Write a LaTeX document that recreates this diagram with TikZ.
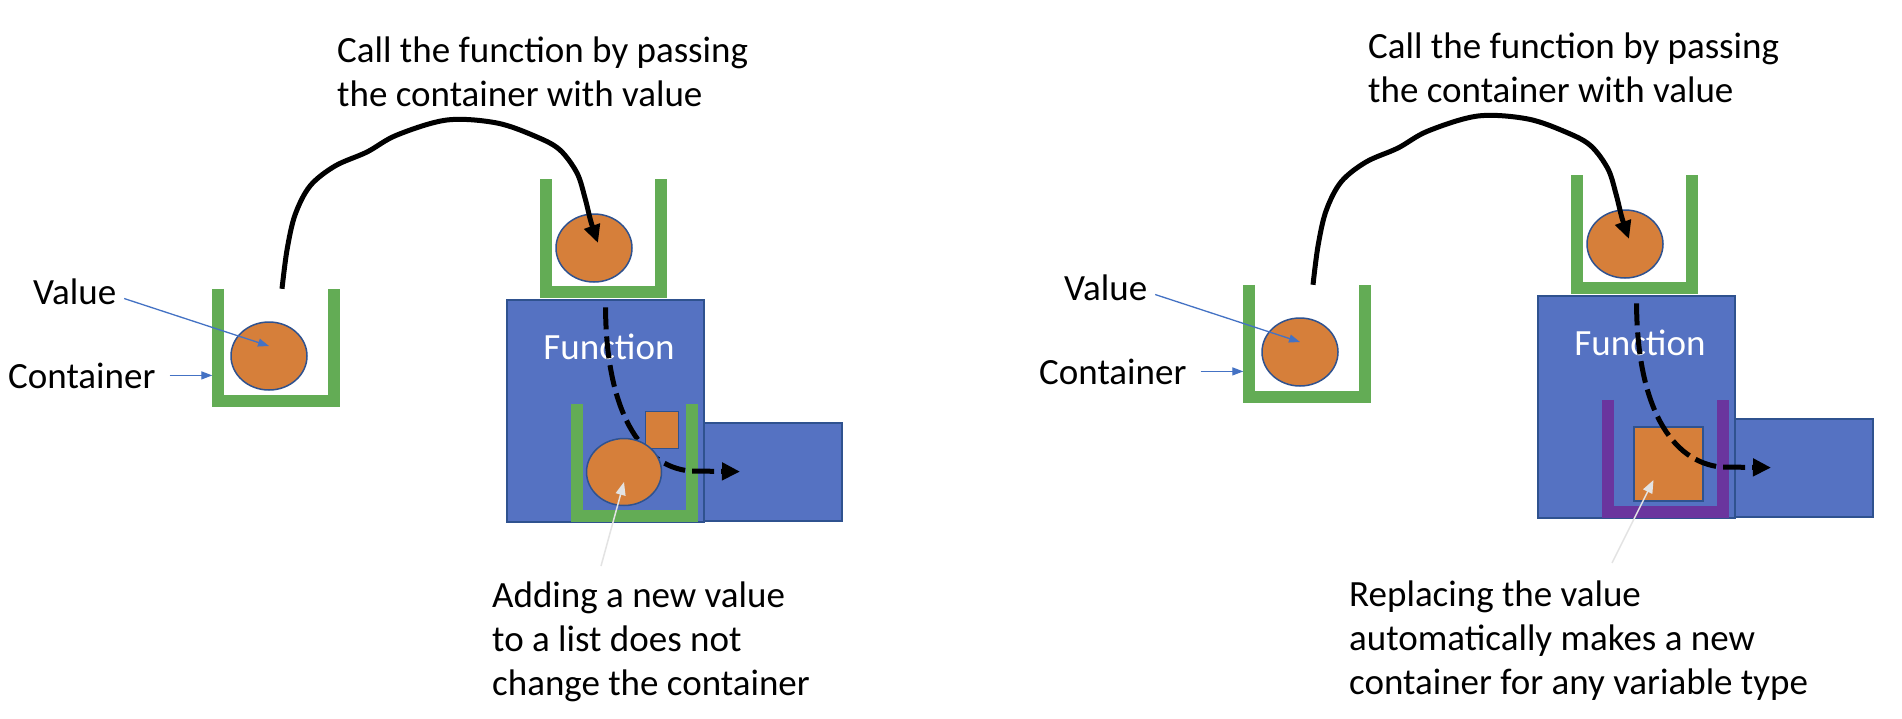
\documentclass[tikz,border=0pt]{standalone}
\usepackage{fontspec}
\setmainfont{Carlito}
\usetikzlibrary{arrows.meta,shapes.geometric}

\definecolor{valorange}{RGB}{214,127,58}
\definecolor{cupgreen}{RGB}{99,172,85}
\definecolor{cuppurple}{RGB}{106,53,158}
\definecolor{funblue}{RGB}{85,114,194}
\definecolor{edgeblue}{RGB}{47,82,143}
\definecolor{pointerblue}{RGB}{68,114,196}

% the three walls of a container node
\newcommand{\cupwalls}[2]{\draw[wall, #2] ([xshift=6pt]#1.north west) -- ([xshift=6pt,yshift=6pt]#1.south west) -- ([xshift=-6pt,yshift=6pt]#1.south east) -- ([xshift=-6pt]#1.north east);}

\begin{document}
\begin{tikzpicture}[x=1pt, y=-1pt,
    every node/.style={font=\fontsize{37}{44}\selectfont},
    txt/.style={inner sep=4pt, align=left},
    cup/.style={minimum width=127pt, minimum height=118pt, inner sep=0pt},
    wall/.style={line width=12pt},
    val/.style={ellipse, fill=valorange, draw=edgeblue, line width=1.5pt, inner sep=0pt, minimum width=76pt, minimum height=68pt},
    block/.style={rectangle, fill=funblue, draw=edgeblue, line width=1.2pt, inner sep=0pt},
    piece/.style={rectangle, fill=valorange, draw=edgeblue, line width=1.2pt, inner sep=0pt},
    pointer/.style={draw=pointerblue, line width=1.3pt, -{Triangle[length=11pt,width=8pt]}},
    call/.style={line width=5pt, -{Triangle[length=18pt,width=16pt]}},
    flow/.style={line width=5pt, dash pattern=on 22pt off 7pt, -{Triangle[length=18pt,width=17pt]}},
    note/.style={draw=gray!22, line width=1.5pt, -{Triangle[length=13pt,width=10pt]}}]

    \path[use as bounding box, fill=white] (0,0) rectangle (1902,718);

    % left: adding to a list
    \node[txt, anchor=base west] (call1) at (333,106) {Call the function by passing\\the container with value};
    \node[txt, anchor=base west] (value1) at (29,304) {Value};
    \node[txt, anchor=base west] (container1) at (4,388) {Container};

    \node[cup] (home1) at (276,348) {};
    \node[val] (val1) at (269,356) {};
    \cupwalls{home1}{cupgreen}

    \node[cup] (pass1) at (603.5,238.5) {};
    \node[val] (pval1) at (594,248) {};
    \cupwalls{pass1}{cupgreen}

    \node[block, minimum width=197pt, minimum height=222pt] (fun1) at (605.5,411) {};
    \node[block, minimum width=138pt, minimum height=98pt] (out1) at (773,472) {};
    \node[text=white] (funlabel1) at (609,347) {Function};

    \node[cup] (inner1) at (634.5,463) {};
    \cupwalls{inner1}{cupgreen}
    \node[piece, minimum width=33pt, minimum height=37pt] (sq1) at (662,430) {};

    \draw[flow, shorten <=8pt, shorten >=33pt] (fun1.north) .. controls (606,410) and (640,466) .. (690,471) -- (out1.center);
    \node[val, minimum width=75pt, minimum height=67pt] (nval1) at (624,472) {};

    \node[txt, anchor=base west] (note1) at (488,695) {Adding a new value\\to a list does not\\change the container};
    \coordinate (noteend1) at (601,566);

    \draw[pointer, shorten <=4pt] ([yshift=-6pt]value1.east) -- ([yshift=10pt]val1.center);
    \draw[pointer, shorten <=10pt] (container1.east) -- (container1.east -| home1.west);
    \coordinate (callstart1) at ([xshift=6pt]home1.north);
    \draw[call] plot[smooth, tension=0.55] coordinates {(callstart1) (287,250) (295,215) (310,186) (335,166) (367,152) (397,135) (447,120) (497,123) (537,137) (560,150) (577,173) (585,198) (591,222) ([xshift=4pt,yshift=5pt]pval1.center)};
    \draw[note] (noteend1) -- ([yshift=-10pt]nval1.center);

    % right: replacing the value
    \begin{scope}[shift={(1031,-4)}]
    \node[txt, anchor=base west] (call2) at (333,106) {Call the function by passing\\the container with value};
    \node[txt, anchor=base west] (value2) at (29,304) {Value};
    \node[txt, anchor=base west] (container2) at (4,388) {Container};

    \node[cup] (home2) at (276,348) {};
    \node[val] (val2) at (269,356) {};
    \cupwalls{home2}{cupgreen}

    \node[cup] (pass2) at (603.5,238.5) {};
    \node[val] (pval2) at (594,248) {};
    \cupwalls{pass2}{cupgreen}

    \node[block, minimum width=197pt, minimum height=222pt] (fun2) at (605.5,411) {};
    \node[block, minimum width=138pt, minimum height=98pt] (out2) at (773,472) {};
    \node[text=white] (funlabel2) at (609,347) {Function};

    \node[cup] (inner2) at (634.5,463) {};
    \cupwalls{inner2}{cuppurple}
    \node[piece, minimum width=69pt, minimum height=74pt] (sq2) at (637.5,468) {};

    \draw[flow, shorten <=8pt, shorten >=33pt] (fun2.north) .. controls (606,410) and (640,466) .. (690,471) -- (out2.center);

    \node[txt, anchor=base west] (note2) at (314,698) {Replacing the value\\automatically makes a new\\container for any variable type};
    \coordinate (noteend2) at (581,567);

    \draw[pointer, shorten <=4pt] ([yshift=-6pt]value2.east) -- ([yshift=10pt]val2.center);
    \draw[pointer, shorten <=10pt] (container2.east) -- (container2.east -| home2.west);
    \coordinate (callstart2) at ([xshift=6pt]home2.north);
    \draw[call] plot[smooth, tension=0.55] coordinates {(callstart2) (287,250) (295,215) (310,186) (335,166) (367,152) (397,135) (447,120) (497,123) (537,137) (560,150) (577,173) (585,198) (591,222) ([xshift=4pt,yshift=5pt]pval2.center)};
    \draw[note] (noteend2) -- ([xshift=-15pt,yshift=-16pt]sq2.center);
    \end{scope}
\end{tikzpicture}
\end{document}
